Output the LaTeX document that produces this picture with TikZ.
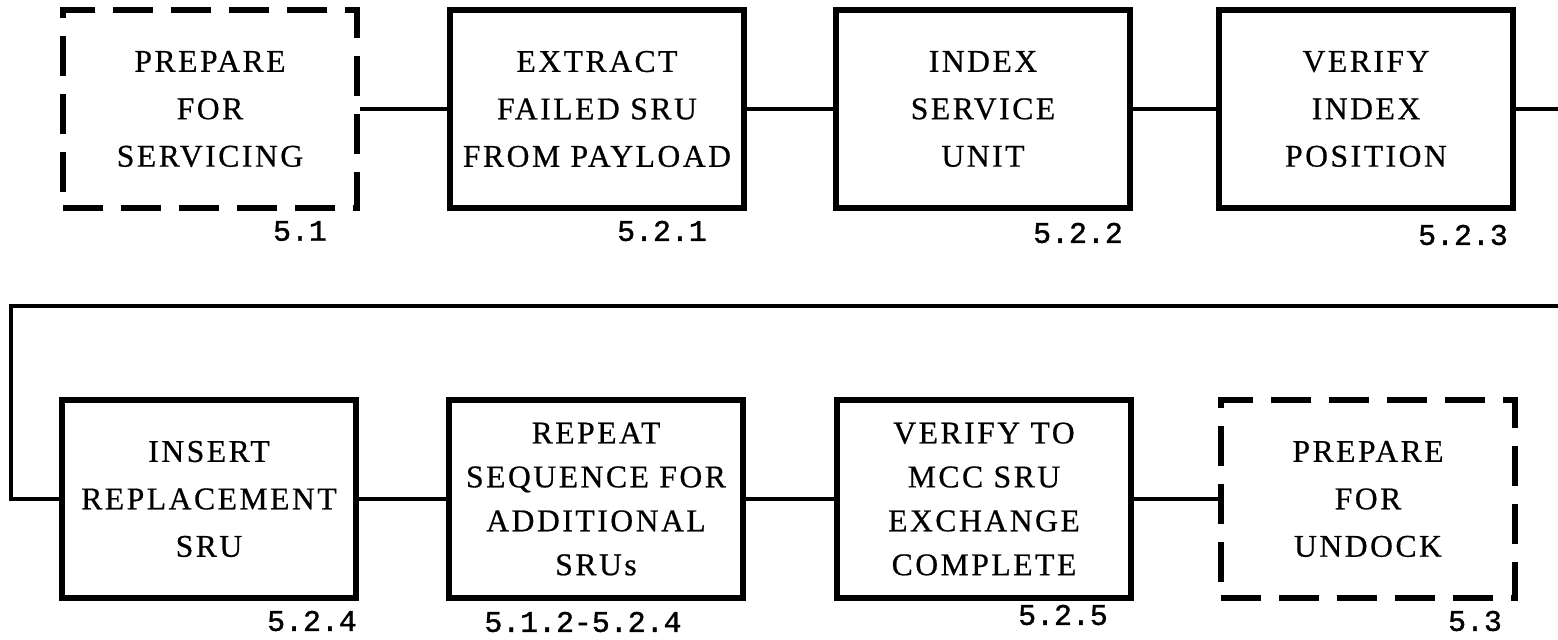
\documentclass[tikz,border=0pt]{standalone}
\usepackage{fontspec}
\setmainfont{Liberation Serif}
\setmonofont{Liberation Mono}
\newfontfamily\blkfont[LetterSpace=8, FakeBold=0.6]{Liberation Serif}
\newfontfamily\numfont[FakeBold=1.2]{Liberation Mono}

\begin{document}
\begin{tikzpicture}[x=0.02cm, y=-0.02cm,
    blk/.style={draw, line width=3.2pt, minimum width=5.88cm, minimum height=3.96cm, align=center, inner sep=2pt,
      font=\blkfont\fontsize{18}{27}\selectfont},
    blkd/.style={blk, dash pattern=on 0.8cm off 0.36cm},
    blkq/.style={blk, font=\blkfont\fontsize{18}{25}\selectfont},
    num/.style={font=\numfont\fontsize{17}{17}\selectfont, inner sep=0pt},
    lnk/.style={line width=2.5pt}]

  \useasboundingbox (0,0) rectangle (1558,639);

  % ---------------- top row ----------------
  \node[blkd] (prep) at (210,109) {PREPARE\\FOR\\SERVICING};
  \node[blk] (extr) at (597,109) {EXTRACT\\FAILED SRU\\FROM PAYLOAD};
  \node[blk] (idx) at (983,109) {INDEX\\SERVICE\\UNIT};
  \node[blk] (vidx) at (1366,109) {VERIFY\\INDEX\\POSITION};
  \node[num] (n51) at (300,231) {5.1};
  \node[num] (n521) at (662,231) {5.2.1};
  \node[num] (n522) at (1078,233) {5.2.2};
  \node[num] (n523) at (1463,235) {5.2.3};
  \draw[lnk] (prep) -- (extr);
  \draw[lnk] (extr) -- (idx);
  \draw[lnk] (idx) -- (vidx);

  % carry over to the second row
  \coordinate (rtop) at (1558,109);
  \coordinate (rret) at (1558,306);
  \coordinate (lret) at (11,306);
  \draw[lnk] (vidx) -- (rtop);

  % ---------------- bottom row ----------------
  \node[blk] (ins) at (209,499) {INSERT\\REPLACEMENT\\SRU};
  \node[blkq] (rep) at (596,499) {REPEAT\\SEQUENCE FOR\\ADDITIONAL\\SRUs};
  \node[blkq] (vmcc) at (984,499) {VERIFY TO\\MCC SRU\\EXCHANGE\\COMPLETE};
  \node[blkd] (undk) at (1368,499) {PREPARE\\FOR\\UNDOCK};
  \node[num] (n524) at (312,621) {5.2.4};
  \node[num] (n5124) at (583,622) {5.1.2-5.2.4};
  \node[num] (n525) at (1063,615) {5.2.5};
  \node[num] (n53) at (1475,621) {5.3};
  \draw[lnk] (rret) -- (lret) |- (ins);
  \draw[lnk] (ins) -- (rep);
  \draw[lnk] (rep) -- (vmcc);
  \draw[lnk] (vmcc) -- (undk);
\end{tikzpicture}
\end{document}
